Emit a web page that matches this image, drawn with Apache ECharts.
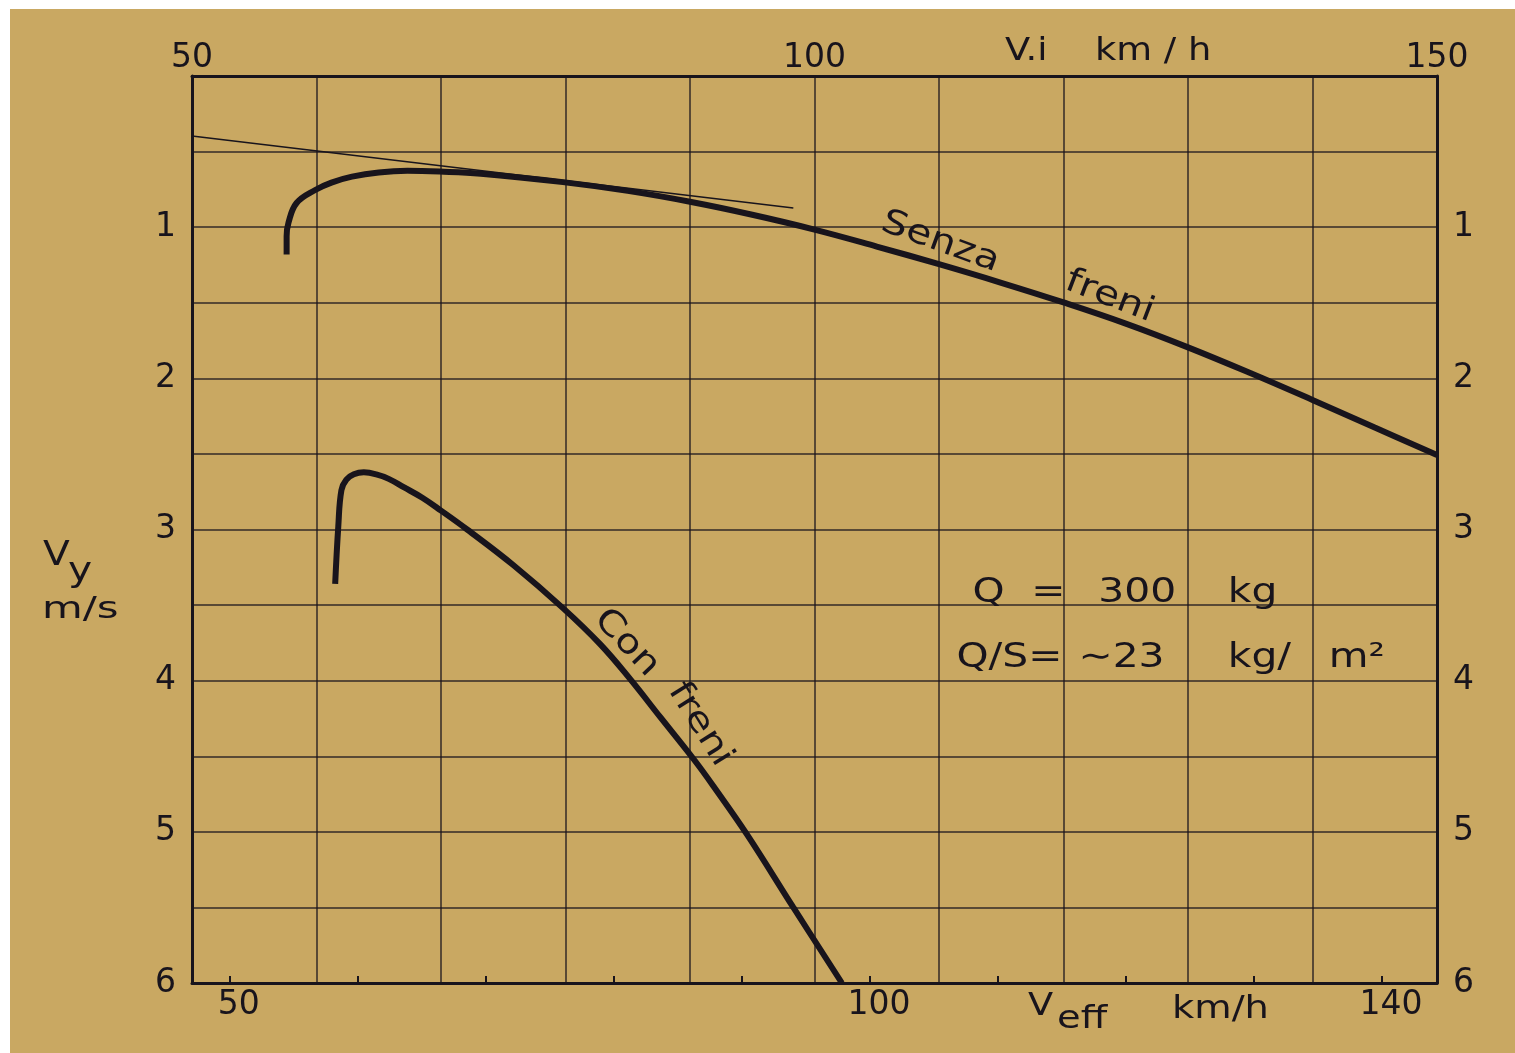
<!DOCTYPE html>
<html>
<head>
<meta charset="utf-8">
<script src="https://cdn.jsdelivr.net/npm/echarts@6/dist/echarts.min.js"></script>
<style>
  html, body { margin: 0; padding: 0; background: #fff; }
  #paper { position: absolute; left: 10px; top: 9px; right: 0; bottom: 0; background: #c9a862; }
  #chart { position: absolute; left: 0; top: 0; width: 1515px; height: 1053px; }
</style>
</head>
<body>
<div id="paper"></div>
<div id="chart"></div>
<script>
// top axis: indicated speed Vi (km/h), bottom axis: effective speed Veff (km/h)
const viLabels = [50, 100, 150]
const veffTicks = [50, 60, 70, 80, 90, 100, 110, 120, 130, 140]
const veffLabels = [50, 100, 140]
const vyLabels = [1, 2, 3, 4, 5, 6]

// sink speed Vy (m/s) against Vi (km/h)
const senzaFreni = [
  [57.6, 1.18], [57.6, 1.06], [57.75, 0.97], [58.4, 0.84], [59.9, 0.754],
  [61.2, 0.705], [62.85, 0.666], [65.0, 0.638], [67.3, 0.627], [69.9, 0.632],
  [73.2, 0.646], [79.8, 0.702], [85.0, 0.76], [90.0, 0.832], [95.0, 0.918],
  [100.0, 1.016], [105.0, 1.128], [110.0, 1.245], [115.0, 1.368], [120.0, 1.498],
  [125.0, 1.638], [130.0, 1.795], [135.0, 1.965], [140.0, 2.143], [145.0, 2.325],
  [150, 2.507]
]
const conFreni = [
  [61.5, 3.36], [61.75, 2.98], [62.0, 2.74], [62.4, 2.67], [63.0, 2.635],
  [63.8, 2.622], [64.8, 2.635], [65.8, 2.665], [67.0, 2.72], [68.5, 2.79],
  [70.0, 2.875], [72.1, 3.0], [75.8, 3.235], [79.8, 3.52], [82.8, 3.76],
  [85.2, 3.99], [87.6, 4.24], [90.3, 4.52], [91.9, 4.70], [94.6, 5.02],
  [98.3, 5.5], [102.2, 6.0]
]
// thin tangent line
const tangente = [[50, 0.397], [98.3, 0.873]]

const ink = '#18141c'
const font = 'DejaVu Sans'

const chart = echarts.init(document.getElementById('chart'))

chart.setOption({
  animation: false,
  backgroundColor: 'transparent',
  grid: { left: 192, right: 78, top: 76, bottom: 70, containLabel: false },
  xAxis: [{
    type: 'value',
    position: 'top',
    min: 50,
    max: 150,
    interval: 10,
    axisLine: { show: true, onZero: false, lineStyle: { color: ink, width: 3 } },
    axisTick: { show: false },
    splitLine: { show: true, lineStyle: { color: ink, width: 1.5, opacity: 0.85 } },
    axisLabel: {
      color: ink, fontFamily: font, fontSize: 33, margin: 1, lineHeight: 34,
      showMinLabel: true, showMaxLabel: true,
      formatter: v => viLabels.indexOf(v) >= 0 ? String(v) : ''
    }
  }, {
    type: 'value',
    position: 'bottom',
    min: 47.05,
    max: 144.29,
    axisLine: { show: true, onZero: false, lineStyle: { color: ink, width: 3 } },
    axisTick: { show: true, inside: true, length: 7, customValues: veffTicks, lineStyle: { color: ink, width: 2 } },
    splitLine: { show: false },
    axisLabel: {
      color: ink, fontFamily: font, fontSize: 33, margin: 6,
      customValues: veffLabels, padding: [0, 0, 0, 18]
    }
  }],
  yAxis: [{
    type: 'value',
    position: 'left',
    inverse: true,
    min: 0,
    max: 6,
    interval: 0.5,
    axisLine: { show: true, onZero: false, lineStyle: { color: ink, width: 3 } },
    axisTick: { show: false },
    splitLine: { show: true, lineStyle: { color: ink, width: 1.5, opacity: 0.85 } },
    axisLabel: {
      color: ink, fontFamily: font, fontSize: 33, margin: 16,
      formatter: v => vyLabels.indexOf(v) >= 0 ? String(v) : ''
    }
  }, {
    type: 'value',
    position: 'right',
    inverse: true,
    min: 0,
    max: 6,
    interval: 0.5,
    axisLine: { show: true, onZero: false, lineStyle: { color: ink, width: 3 } },
    axisTick: { show: false },
    splitLine: { show: false },
    axisLabel: {
      color: ink, fontFamily: font, fontSize: 33, margin: 16,
      formatter: v => vyLabels.indexOf(v) >= 0 ? String(v) : ''
    }
  }],
  series: [{
    name: 'Senza freni',
    type: 'line',
    xAxisIndex: 0,
    yAxisIndex: 0,
    data: senzaFreni,
    smooth: 0.4,
    symbol: 'none',
    lineStyle: { color: ink, width: 6 }
  }, {
    name: 'Con freni',
    type: 'line',
    xAxisIndex: 0,
    yAxisIndex: 0,
    data: conFreni,
    smooth: 0.4,
    symbol: 'none',
    lineStyle: { color: ink, width: 6 }
  }, {
    name: 'tangente',
    type: 'line',
    xAxisIndex: 0,
    yAxisIndex: 0,
    data: tangente,
    symbol: 'none',
    lineStyle: { color: ink, width: 1.5 }
  }]
})

// labels inside the plot, anchored in data units
const notes = [
  { vi: 110.1, vy: 1.10, text: 'Senza', rot: -20, align: 'center' },
  { vi: 123.7, vy: 1.46, text: 'freni', rot: -21, align: 'center' },
  { vi: 84.9, vy: 3.75, text: 'Con', rot: -47, align: 'center' },
  { vi: 90.8, vy: 4.29, text: 'freni', rot: -58, align: 'center' },
  { vi: 112.7, vy: 3.42, text: 'Q', rot: 0, align: 'left' },
  { vi: 117.4, vy: 3.42, text: '=', rot: 0, align: 'left' },
  { vi: 122.8, vy: 3.42, text: '300', rot: 0, align: 'left' },
  { vi: 133.2, vy: 3.42, text: 'kg', rot: 0, align: 'left' },
  { vi: 111.4, vy: 3.85, text: 'Q/S=', rot: 0, align: 'left' },
  { vi: 121.2, vy: 3.85, text: '∼23', rot: 0, align: 'left' },
  { vi: 133.2, vy: 3.85, text: 'kg/', rot: 0, align: 'left' },
  { vi: 141.3, vy: 3.85, text: 'm²', rot: 0, align: 'left' }
]

const graphics = notes.map(n => {
  const p = chart.convertToPixel({ seriesIndex: 0 }, [n.vi, n.vy])
  return {
    type: 'text',
    x: p[0],
    y: p[1],
    rotation: n.rot * Math.PI / 180,
    scaleX: 1.2,
    style: {
      text: n.text, fill: ink, font: '34px "DejaVu Sans"',
      align: n.align, verticalAlign: 'middle'
    }
  }
})

// axis titles
const titles = [
  { x: 1005, y: 52, text: 'V.i', size: 32, sx: 1.15 },
  { x: 1095, y: 52, text: 'km / h', size: 32, sx: 1.15 },
  { x: 43, y: 556, text: 'V', size: 34, sx: 1.15 },
  { x: 68, y: 572, text: 'y', size: 34, sx: 1.2 },
  { x: 42, y: 610, text: 'm/s', size: 31, sx: 1.35 },
  { x: 1028, y: 1007, text: 'V', size: 32, sx: 1.15 },
  { x: 1057, y: 1020, text: 'eff', size: 32, sx: 1.2 },
  { x: 1172, y: 1010, text: 'km/h', size: 32, sx: 1.2 }
]
titles.forEach(t => {
  graphics.push({
    type: 'text',
    x: t.x,
    y: t.y,
    scaleX: t.sx,
    style: { text: t.text, fill: ink, font: t.size + 'px "DejaVu Sans"', align: 'left', verticalAlign: 'middle' }
  })
})

chart.setOption({ graphic: graphics })
</script>
</body>
</html>
